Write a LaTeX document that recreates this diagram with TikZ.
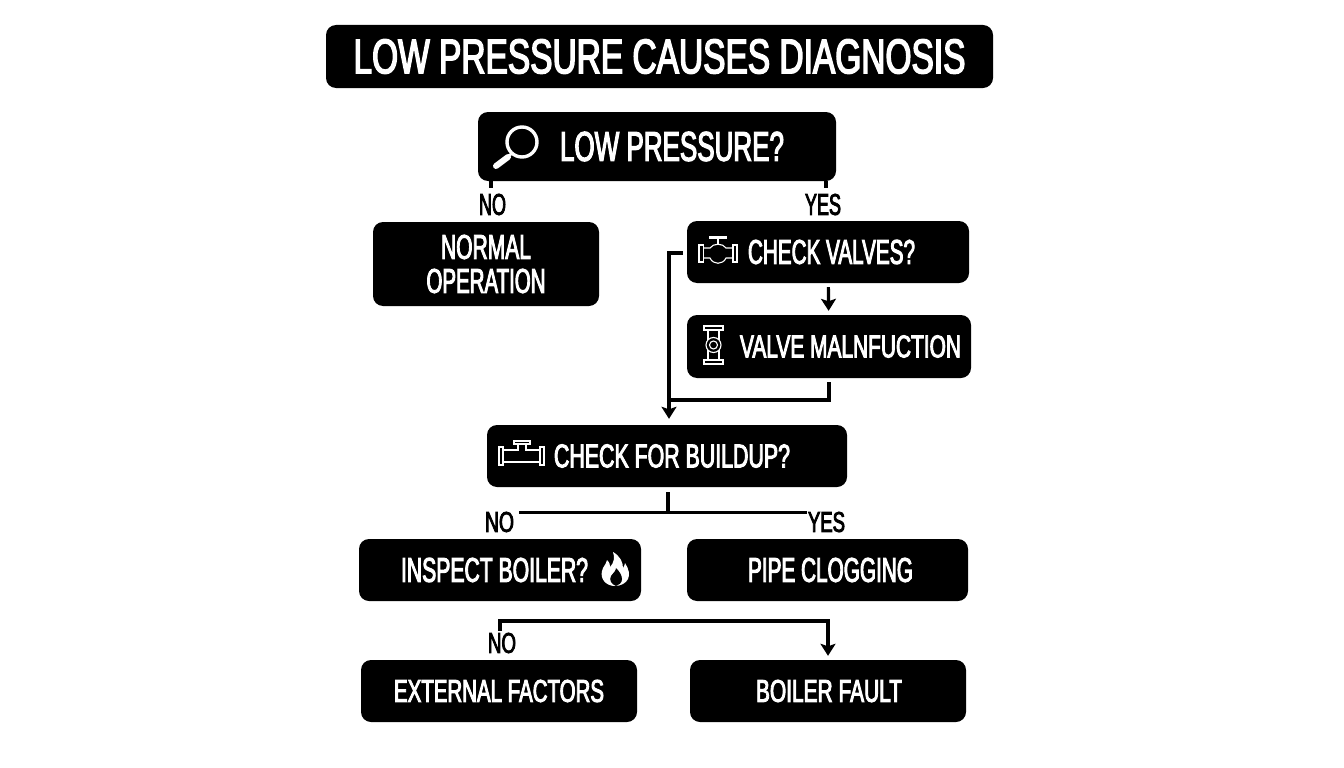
\documentclass[tikz,border=0pt]{standalone}
\usepackage{fontspec}
\setmainfont[FakeStretch=0.72,FakeBold=3]{Liberation Sans}
\usetikzlibrary{arrows.meta}
\newcommand{\fitt}[3]{\resizebox{#1pt}{#2pt}{#3}}
\tikzset{
  bx/.style={fill=black,rounded corners=10pt,inner sep=0pt,text=white,draw=none},
  lab/.style={inner sep=0pt,text=black},
  wire/.style={draw=black,line width=3.2pt},
  tip/.style={wire,-{Stealth[length=12pt,width=15pt,inset=2.5pt]}},
  ico/.style={draw=white,line width=1.1pt,fill=none}
}
\begin{document}
\begin{tikzpicture}[x=1pt,y=-1pt]
\useasboundingbox (0,0) rectangle (1344,768);
\fill[white] (0,0) rectangle (1344,768);
% boxes
\node[bx,minimum width=667pt,minimum height=63pt] (title) at (659.5,56.5) {\raisebox{-1.5pt}{\fitt{612}{34}{LOW PRESSURE CAUSES DIAGNOSIS}}};
\node[bx,minimum width=358pt,minimum height=69pt] (root) at (657,146.5) {\hspace*{30pt}\fitt{224}{29}{LOW PRESSURE?}};
\node[bx,minimum width=226pt,minimum height=84pt,align=center,font=\fontsize{20}{34}\selectfont] (normal) at (486,264) {\fitt{90}{24}{NORMAL}\\\fitt{119}{24}{OPERATION}};
\node[bx,minimum width=282pt,minimum height=62pt] (cv) at (828,252) {\hspace*{7pt}\fitt{167}{24}{CHECK VALVES?}};
\node[bx,minimum width=284pt,minimum height=63pt] (vm) at (829,346.5) {\hspace*{43pt}\fitt{221}{22}{VALVE MALNFUCTION}};
\node[bx,minimum width=360pt,minimum height=62pt] (bu) at (667,456) {\hspace*{10pt}\fitt{236}{23}{CHECK FOR BUILDUP?}};
\node[bx,minimum width=282pt,minimum height=62pt] (ib) at (500,570) {\fitt{187}{24}{INSPECT BOILER?}\hspace*{11pt}};
\node[bx,minimum width=281pt,minimum height=62pt] (pc) at (827.5,570) {\hspace*{6pt}\fitt{165}{24}{PIPE CLOGGING}};
\node[bx,minimum width=276pt,minimum height=62pt] (ef) at (499,691) {\fitt{210}{22}{EXTERNAL FACTORS}};
\node[bx,minimum width=276pt,minimum height=62pt] (bf) at (828,691) {\hspace*{2pt}\fitt{146}{22}{BOILER FAULT}};
% labels
\node[lab] (no1) at (492.5,204.5) {\fitt{27}{21}{NO}};
\node[lab] (yes1) at (823,204.5) {\fitt{36}{21}{YES}};
\node[lab] (no2) at (499.5,522) {\fitt{29}{20}{NO}};
\node[lab] (yes2) at (826.5,522) {\fitt{37}{20}{YES}};
\node[lab] (no3) at (502,643) {\fitt{28}{20}{NO}};
% helper coordinates
\coordinate (noTop) at ([xshift=-1.5pt,yshift=6pt]no1.north);
\coordinate (yesTop) at ([xshift=3pt,yshift=6pt]yes1.north);
\coordinate (merge) at (669,400);
\coordinate (hb) at (828,621);
% connectors
\draw[wire] (noTop) -- (noTop |- root.south);
\draw[wire] (yesTop) -- (yesTop |- root.south);
\draw[tip,shorten <=4pt,shorten >=4pt] (cv) -- (vm);
\draw[tip] ([xshift=-4pt,yshift=-1pt]cv.west) -| ([xshift=2pt,yshift=6pt]bu.north);
\draw[wire] ([yshift=-4pt]vm.south) |- (merge);
\draw[wire] ([xshift=5pt,yshift=-0.5pt]no2.north east) -- ([xshift=-1pt,yshift=-0.5pt]yes2.north west);
\draw[wire] ([xshift=1pt,yshift=-5pt]bu.south) -- ([xshift=1pt,yshift=-25.5pt]bu.south);
\draw[tip] ([xshift=-2pt,yshift=2pt]no3.north) |- (hb) -- ([yshift=4pt]bf.north);
% magnifier icon
\draw[draw=white,line width=3.4pt] (522,142) circle (15);
\draw[draw=white,line width=2.5pt] (512,153) -- (508,157);
\draw[draw=white,line width=6pt,line cap=round] (508,157) -- (496,166);
% valve icon
\begin{scope}[ico]
\draw (699,245) rectangle (703.5,262);
\draw (733,245) rectangle (737,262);
\draw (703.5,248) -- (710,248) .. controls (713,243) and (723,243) .. (726,248) -- (733,248);
\draw (703.5,258) -- (710,258) .. controls (713,265) and (723,265) .. (726,258) -- (733,258);
\draw (718,244) -- (718,238);
\draw (710,237) rectangle (726,238.5);
\end{scope}
% vertical valve icon
\begin{scope}[ico]
\draw (704,326) rectangle (723,330);
\draw (704,360) rectangle (723,364);
\draw (708,330) -- (708,360);
\draw (719,330) -- (719,360);
\draw[fill=black] (713.5,345) circle (7.5);
\draw (713.5,345) circle (4);
\end{scope}
% pipe icon
\begin{scope}[ico]
\draw (499,447) rectangle (503,465);
\draw (540,447) rectangle (544,465);
\draw (503,450) -- (518,450) -- (518,444);
\draw (526,444) -- (526,450) -- (540,450);
\draw (503,462) -- (540,462);
\draw (514,441) rectangle (530,444);
\end{scope}
% flame icon
\fill[white] (615,586) .. controls (606,586) and (600,579) .. (602,571)
  .. controls (603,566) and (606,565) .. (607,560)
  .. controls (610,563) and (610,565) .. (610,567)
  .. controls (614,563) and (615,557) .. (613,552)
  .. controls (620,556) and (623,562) .. (623,568)
  .. controls (624,566) and (625,565) .. (625,563)
  .. controls (629,569) and (630,575) .. (628,579)
  .. controls (626,583) and (621,586) .. (615,586) -- cycle;
\fill[black] (616,586) .. controls (611,584) and (609,580) .. (611,576)
  .. controls (613,573) and (616,571) .. (616,568)
  .. controls (619,571) and (622,575) .. (622,579)
  .. controls (622,583) and (619,585) .. (616,586) -- cycle;
\end{tikzpicture}
\end{document}
